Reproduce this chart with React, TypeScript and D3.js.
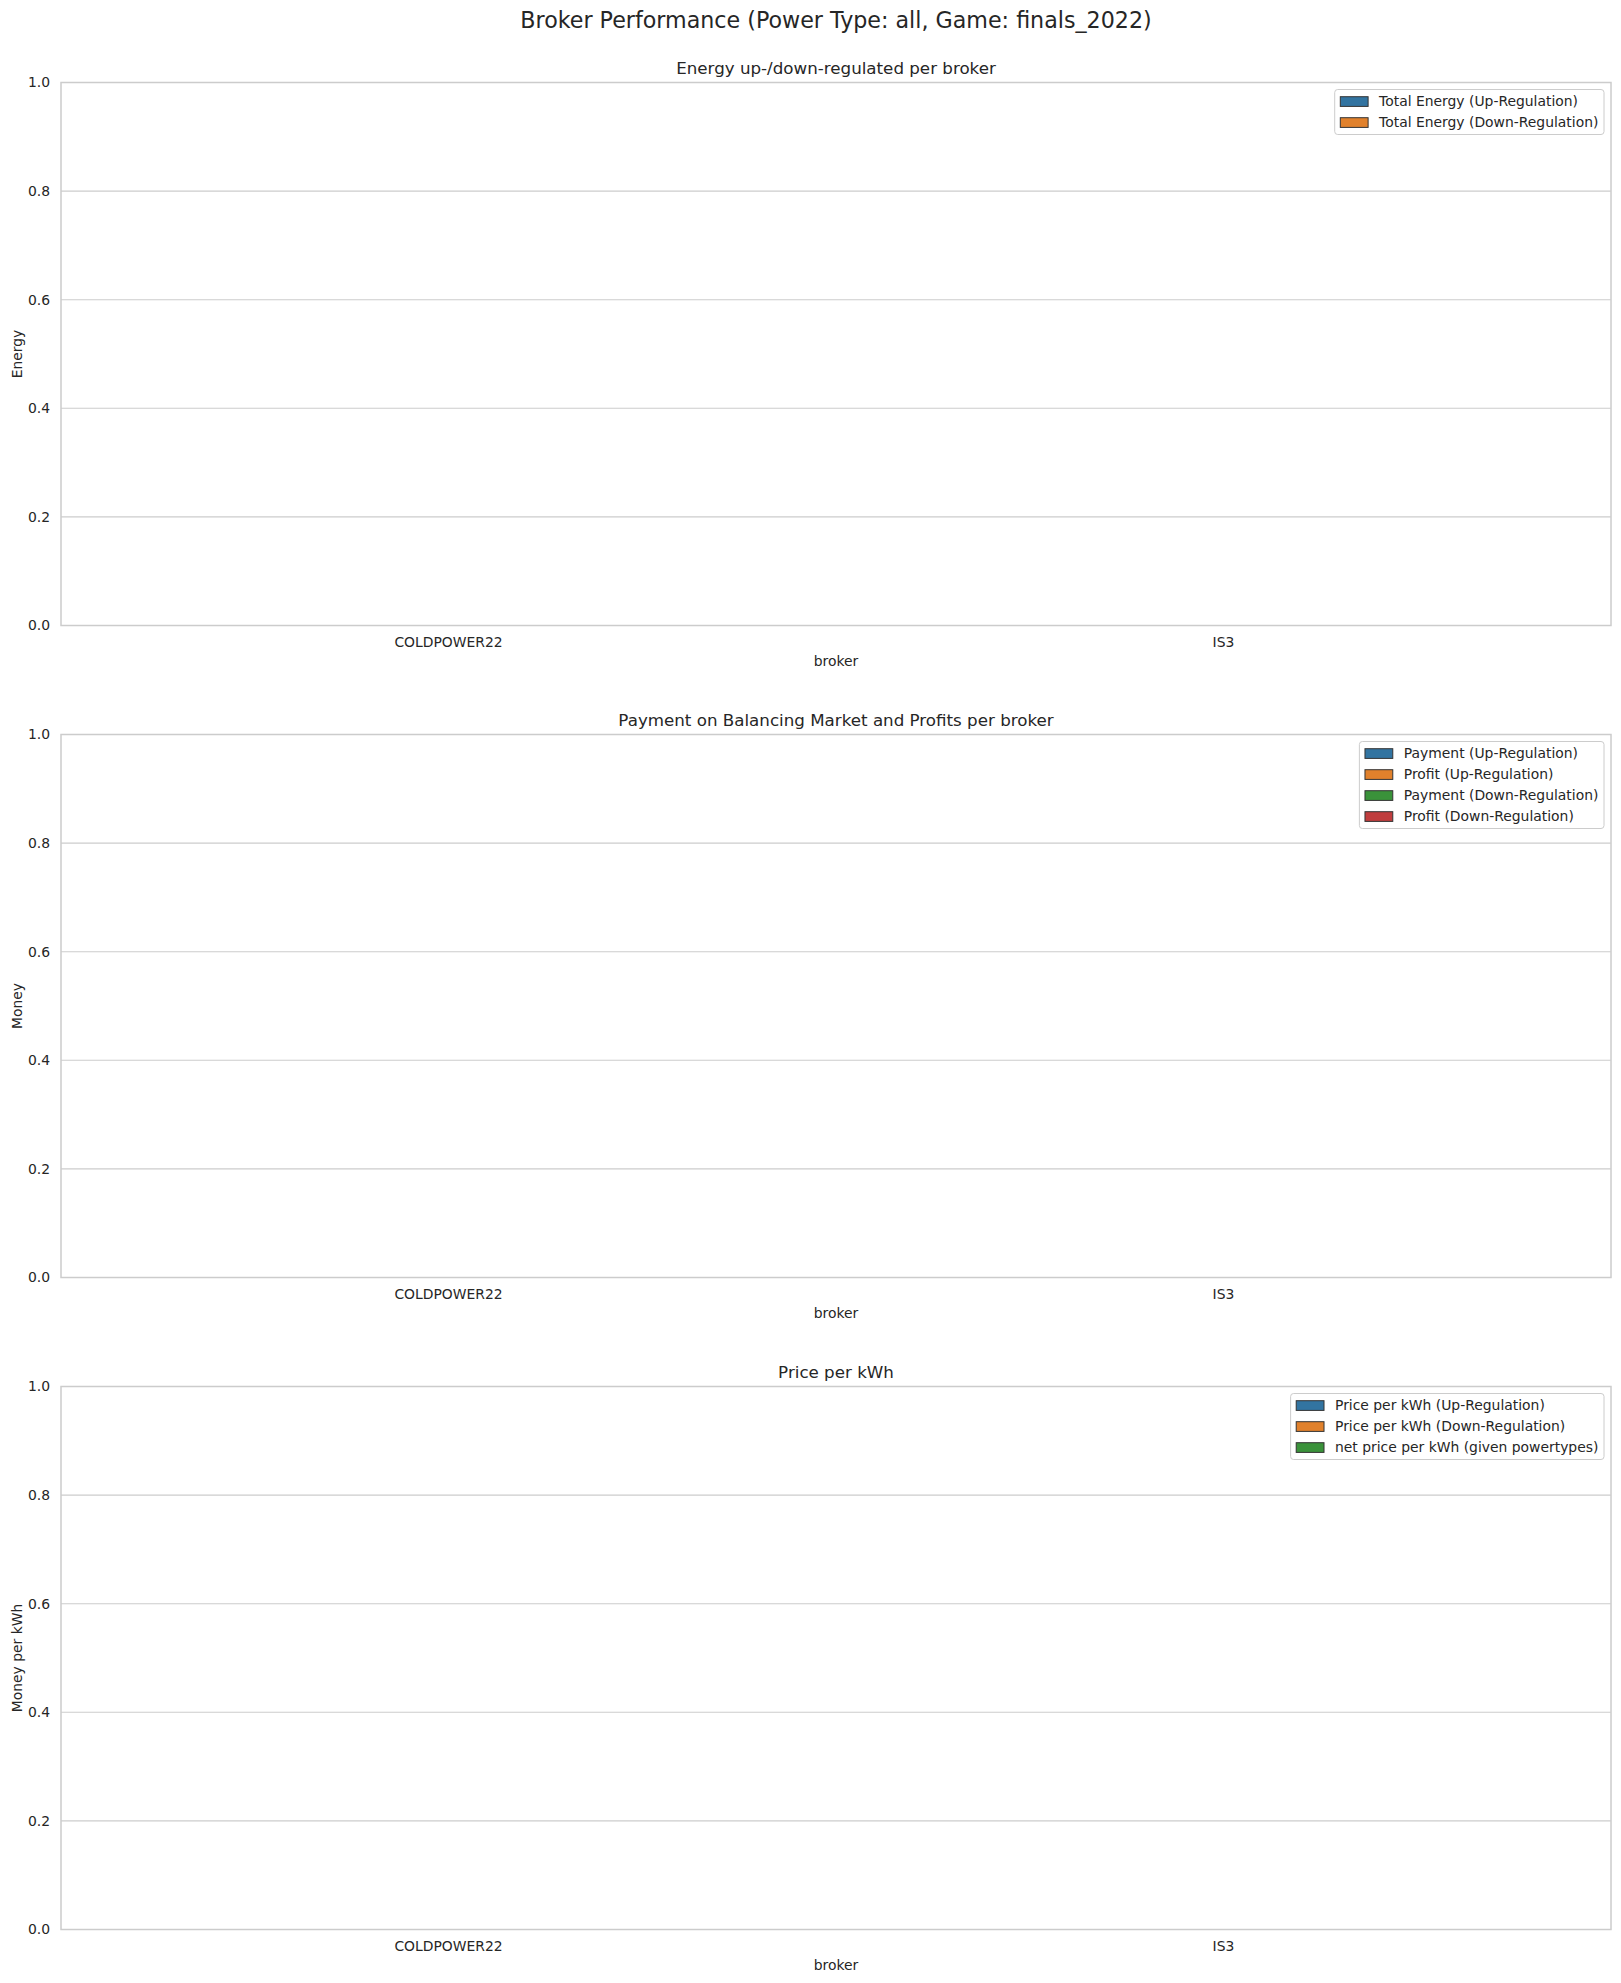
import React, { useEffect, useRef } from 'react'
import * as d3 from 'd3'

// brokers on the x axis
const brokers = ['COLDPOWER22', 'IS3']
const yTicks = [0, 0.2, 0.4, 0.6, 0.8, 1.0]

// no bars were drawn in the source figure: every value is missing
const energyUp: (number | null)[] = [null, null]
const energyDown: (number | null)[] = [null, null]
const paymentUp: (number | null)[] = [null, null]
const profitUp: (number | null)[] = [null, null]
const paymentDown: (number | null)[] = [null, null]
const profitDown: (number | null)[] = [null, null]
const priceUp: (number | null)[] = [null, null]
const priceDown: (number | null)[] = [null, null]
const netPrice: (number | null)[] = [null, null]

const palette = ['#3274a1', '#e1812c', '#3a923a', '#c03d3e']

interface Series {
  name: string
  values: (number | null)[]
}

interface Panel {
  title: string
  ylabel: string
  series: Series[]
}

const panels: Panel[] = [
  {
    title: 'Energy up-/down-regulated per broker',
    ylabel: 'Energy',
    series: [
      { name: 'Total Energy (Up-Regulation)', values: energyUp },
      { name: 'Total Energy (Down-Regulation)', values: energyDown },
    ],
  },
  {
    title: 'Payment on Balancing Market and Profits per broker',
    ylabel: 'Money',
    series: [
      { name: 'Payment (Up-Regulation)', values: paymentUp },
      { name: 'Profit (Up-Regulation)', values: profitUp },
      { name: 'Payment (Down-Regulation)', values: paymentDown },
      { name: 'Profit (Down-Regulation)', values: profitDown },
    ],
  },
  {
    title: 'Price per kWh',
    ylabel: 'Money per kWh',
    series: [
      { name: 'Price per kWh (Up-Regulation)', values: priceUp },
      { name: 'Price per kWh (Down-Regulation)', values: priceDown },
      { name: 'net price per kWh (given powertypes)', values: netPrice },
    ],
  },
]

const W = 1621
const H = 1983
const FONT = 'DejaVu Sans, sans-serif'
const TEXT = '#262626'
const GRID = '#cccccc'

export default function App() {
  const svgRef = useRef<SVGSVGElement | null>(null)

  useEffect(() => {
    if (!svgRef.current) return
    const svg = d3.select(svgRef.current)
    svg.selectAll('*').remove()

    svg.append('rect').attr('width', W).attr('height', H).attr('fill', '#fff')

    svg.append('text')
      .attr('x', 836).attr('y', 28)
      .attr('text-anchor', 'middle')
      .attr('font-size', 22.2)
      .attr('fill', TEXT)
      .text('Broker Performance (Power Type: all, Game: finals_2022)')

    const left = 61
    const right = 1611
    const axH = 543
    const tops = [82.5, 734.5, 1386.5]

    panels.forEach((p, pi) => {
      const top = tops[pi]
      const bottom = top + axH
      const g = svg.append('g')

      const x = d3.scaleBand<string>().domain(brokers).range([left, right]).padding(0)
      const y = d3.scaleLinear().domain([0, 1]).range([bottom, top])

      // grid
      g.selectAll('line.grid')
        .data(yTicks)
        .join('line')
        .attr('x1', left).attr('x2', right)
        .attr('y1', d => y(d)).attr('y2', d => y(d))
        .attr('stroke', GRID).attr('stroke-width', 1.1)

      // bars (none present)
      const n = p.series.length
      const inner = d3.scaleBand<number>().domain(d3.range(n)).range([0, x.bandwidth() * 0.8])
      p.series.forEach((s, si) => {
        g.selectAll(`rect.bar${si}`)
          .data(s.values.map((v, i) => ({ v, b: brokers[i] })).filter(d => d.v != null))
          .join('rect')
          .attr('x', d => x(d.b)! + x.bandwidth() * 0.1 + inner(si)!)
          .attr('width', inner.bandwidth())
          .attr('y', d => Math.min(y(d.v as number), y(0)))
          .attr('height', d => Math.abs(y(d.v as number) - y(0)))
          .attr('fill', palette[si]).attr('stroke', '#333').attr('stroke-width', 1)
      })

      // spines
      g.append('rect')
        .attr('x', left).attr('y', top)
        .attr('width', right - left).attr('height', axH)
        .attr('fill', 'none').attr('stroke', GRID).attr('stroke-width', 1.5)

      // y tick labels
      g.selectAll('text.yt')
        .data(yTicks)
        .join('text')
        .attr('x', 50).attr('y', d => y(d))
        .attr('dy', '0.35em')
        .attr('text-anchor', 'end')
        .attr('font-size', 13.9).attr('fill', TEXT)
        .text(d => d3.format('.1f')(d))

      // x tick labels
      g.selectAll('text.xt')
        .data(brokers)
        .join('text')
        .attr('x', d => x(d)! + x.bandwidth() / 2)
        .attr('y', bottom + 21)
        .attr('text-anchor', 'middle')
        .attr('font-size', 13.9).attr('fill', TEXT)
        .text(d => d)

      g.append('text')
        .attr('x', (left + right) / 2).attr('y', bottom + 40)
        .attr('text-anchor', 'middle')
        .attr('font-size', 13.9).attr('fill', TEXT)
        .text('broker')

      g.append('text')
        .attr('transform', `translate(21.5,${(top + bottom) / 2}) rotate(-90)`)
        .attr('text-anchor', 'middle')
        .attr('font-size', 13.9).attr('fill', TEXT)
        .text(p.ylabel)

      g.append('text')
        .attr('x', (left + right) / 2).attr('y', top - 8.5)
        .attr('text-anchor', 'middle')
        .attr('font-size', 16.7).attr('fill', TEXT)
        .text(p.title)

      // legend
      const lg = g.append('g')
      const frame = lg.append('rect')
      const labels = lg.selectAll('text')
        .data(p.series)
        .join('text')
        .attr('font-size', 13.9).attr('fill', TEXT)
        .attr('dy', '0.35em')
        .text(d => d.name)
      let maxW = 0
      labels.each(function () {
        maxW = Math.max(maxW, (this as SVGTextElement).getComputedTextLength())
      })
      const boxRight = right - 7
      const boxW = 5.6 + 27.8 + 11 + maxW + 5.6
      const boxL = boxRight - boxW
      const boxT = top + 7
      const boxH = 24 + (n - 1) * 21
      frame
        .attr('x', boxL).attr('y', boxT)
        .attr('width', boxW).attr('height', boxH)
        .attr('rx', 3)
        .attr('fill', 'rgba(255,255,255,0.8)')
        .attr('stroke', GRID).attr('stroke-width', 1)
      labels
        .attr('x', boxL + 5.6 + 27.8 + 11)
        .attr('y', (_, i) => boxT + 12 + i * 21)
      lg.selectAll('rect.patch')
        .data(p.series)
        .join('rect')
        .attr('x', boxL + 5.6)
        .attr('y', (_, i) => boxT + 12 + i * 21 - 4.8)
        .attr('width', 27.8).attr('height', 9.7)
        .attr('fill', (_, i) => palette[i])
        .attr('stroke', '#333').attr('stroke-width', 1)
    })
  }, [])

  return (
    <div style={{ position: 'absolute', left: 0, top: 0 }}>
      <svg ref={svgRef} width={W} height={H} style={{ display: 'block', fontFamily: FONT }} />
    </div>
  )
}
